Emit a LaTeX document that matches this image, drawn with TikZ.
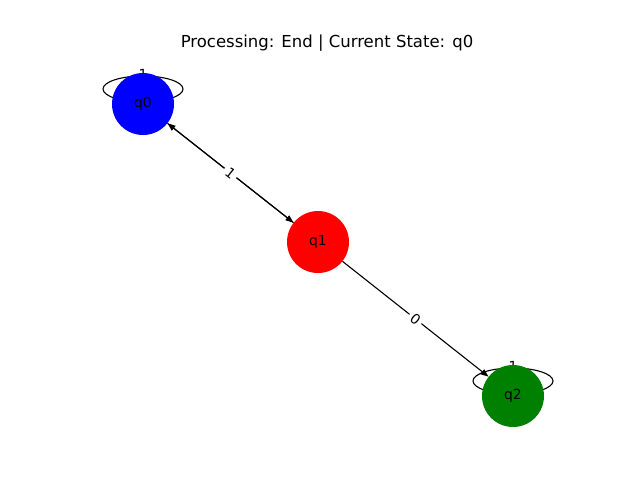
\documentclass[tikz,border=0pt]{standalone}
\usepackage{fontspec}
\setmainfont{DejaVu Sans}
\usetikzlibrary{arrows.meta}
\pgfdeclarelayer{back}
\pgfsetlayers{back,main}
\begin{document}
\begin{tikzpicture}[x=1pt,y=-1pt,
  state/.style={circle, minimum size=62pt, inner sep=0pt, font=\fontsize{13.9}{16}\selectfont},
  trans/.style={line width=1.1pt, -{Triangle[length=8pt,width=6pt]}},
  elabel/.style={fill=white, rounded corners=2pt, inner sep=3pt, font=\fontsize{13.9}{16}\selectfont},
  selfloop/.style={line width=1.1pt},
]
% states
\node[state, fill={rgb,255:red,0;green,0;blue,255}] (q0) at (143,104) {q0};
\node[state, fill={rgb,255:red,255;green,0;blue,0}] (q1) at (318,242) {q1};
\node[state, fill={rgb,255:red,0;green,128;blue,0}] (q2) at (513,396) {q2};

% title
\node[font=\fontsize{16.5}{20}\selectfont] (title) at (327,43) {Processing: End | Current State: q0};

\begin{pgfonlayer}{back}
  \path[use as bounding box, fill=white] (0,0) rectangle (640,480);
  % self-loops behind the states
  \draw[selfloop] ([yshift=15pt]q0.center) ellipse (40 and 13);
  \node[elabel] (l0) at ([yshift=30pt]q0.center) {1};
  \draw[selfloop] ([yshift=15pt]q2.center) ellipse (40 and 13);
  \node[elabel] (l2) at ([yshift=30pt]q2.center) {1};
  % transitions
  \draw[trans] (q1) -- (q0);
  \draw[trans] (q0) -- node[elabel, sloped] (e01) {1} (q1);
  \draw[trans] (q1) -- node[elabel, sloped] (e12) {0} (q2);
\end{pgfonlayer}
\end{tikzpicture}
\end{document}
